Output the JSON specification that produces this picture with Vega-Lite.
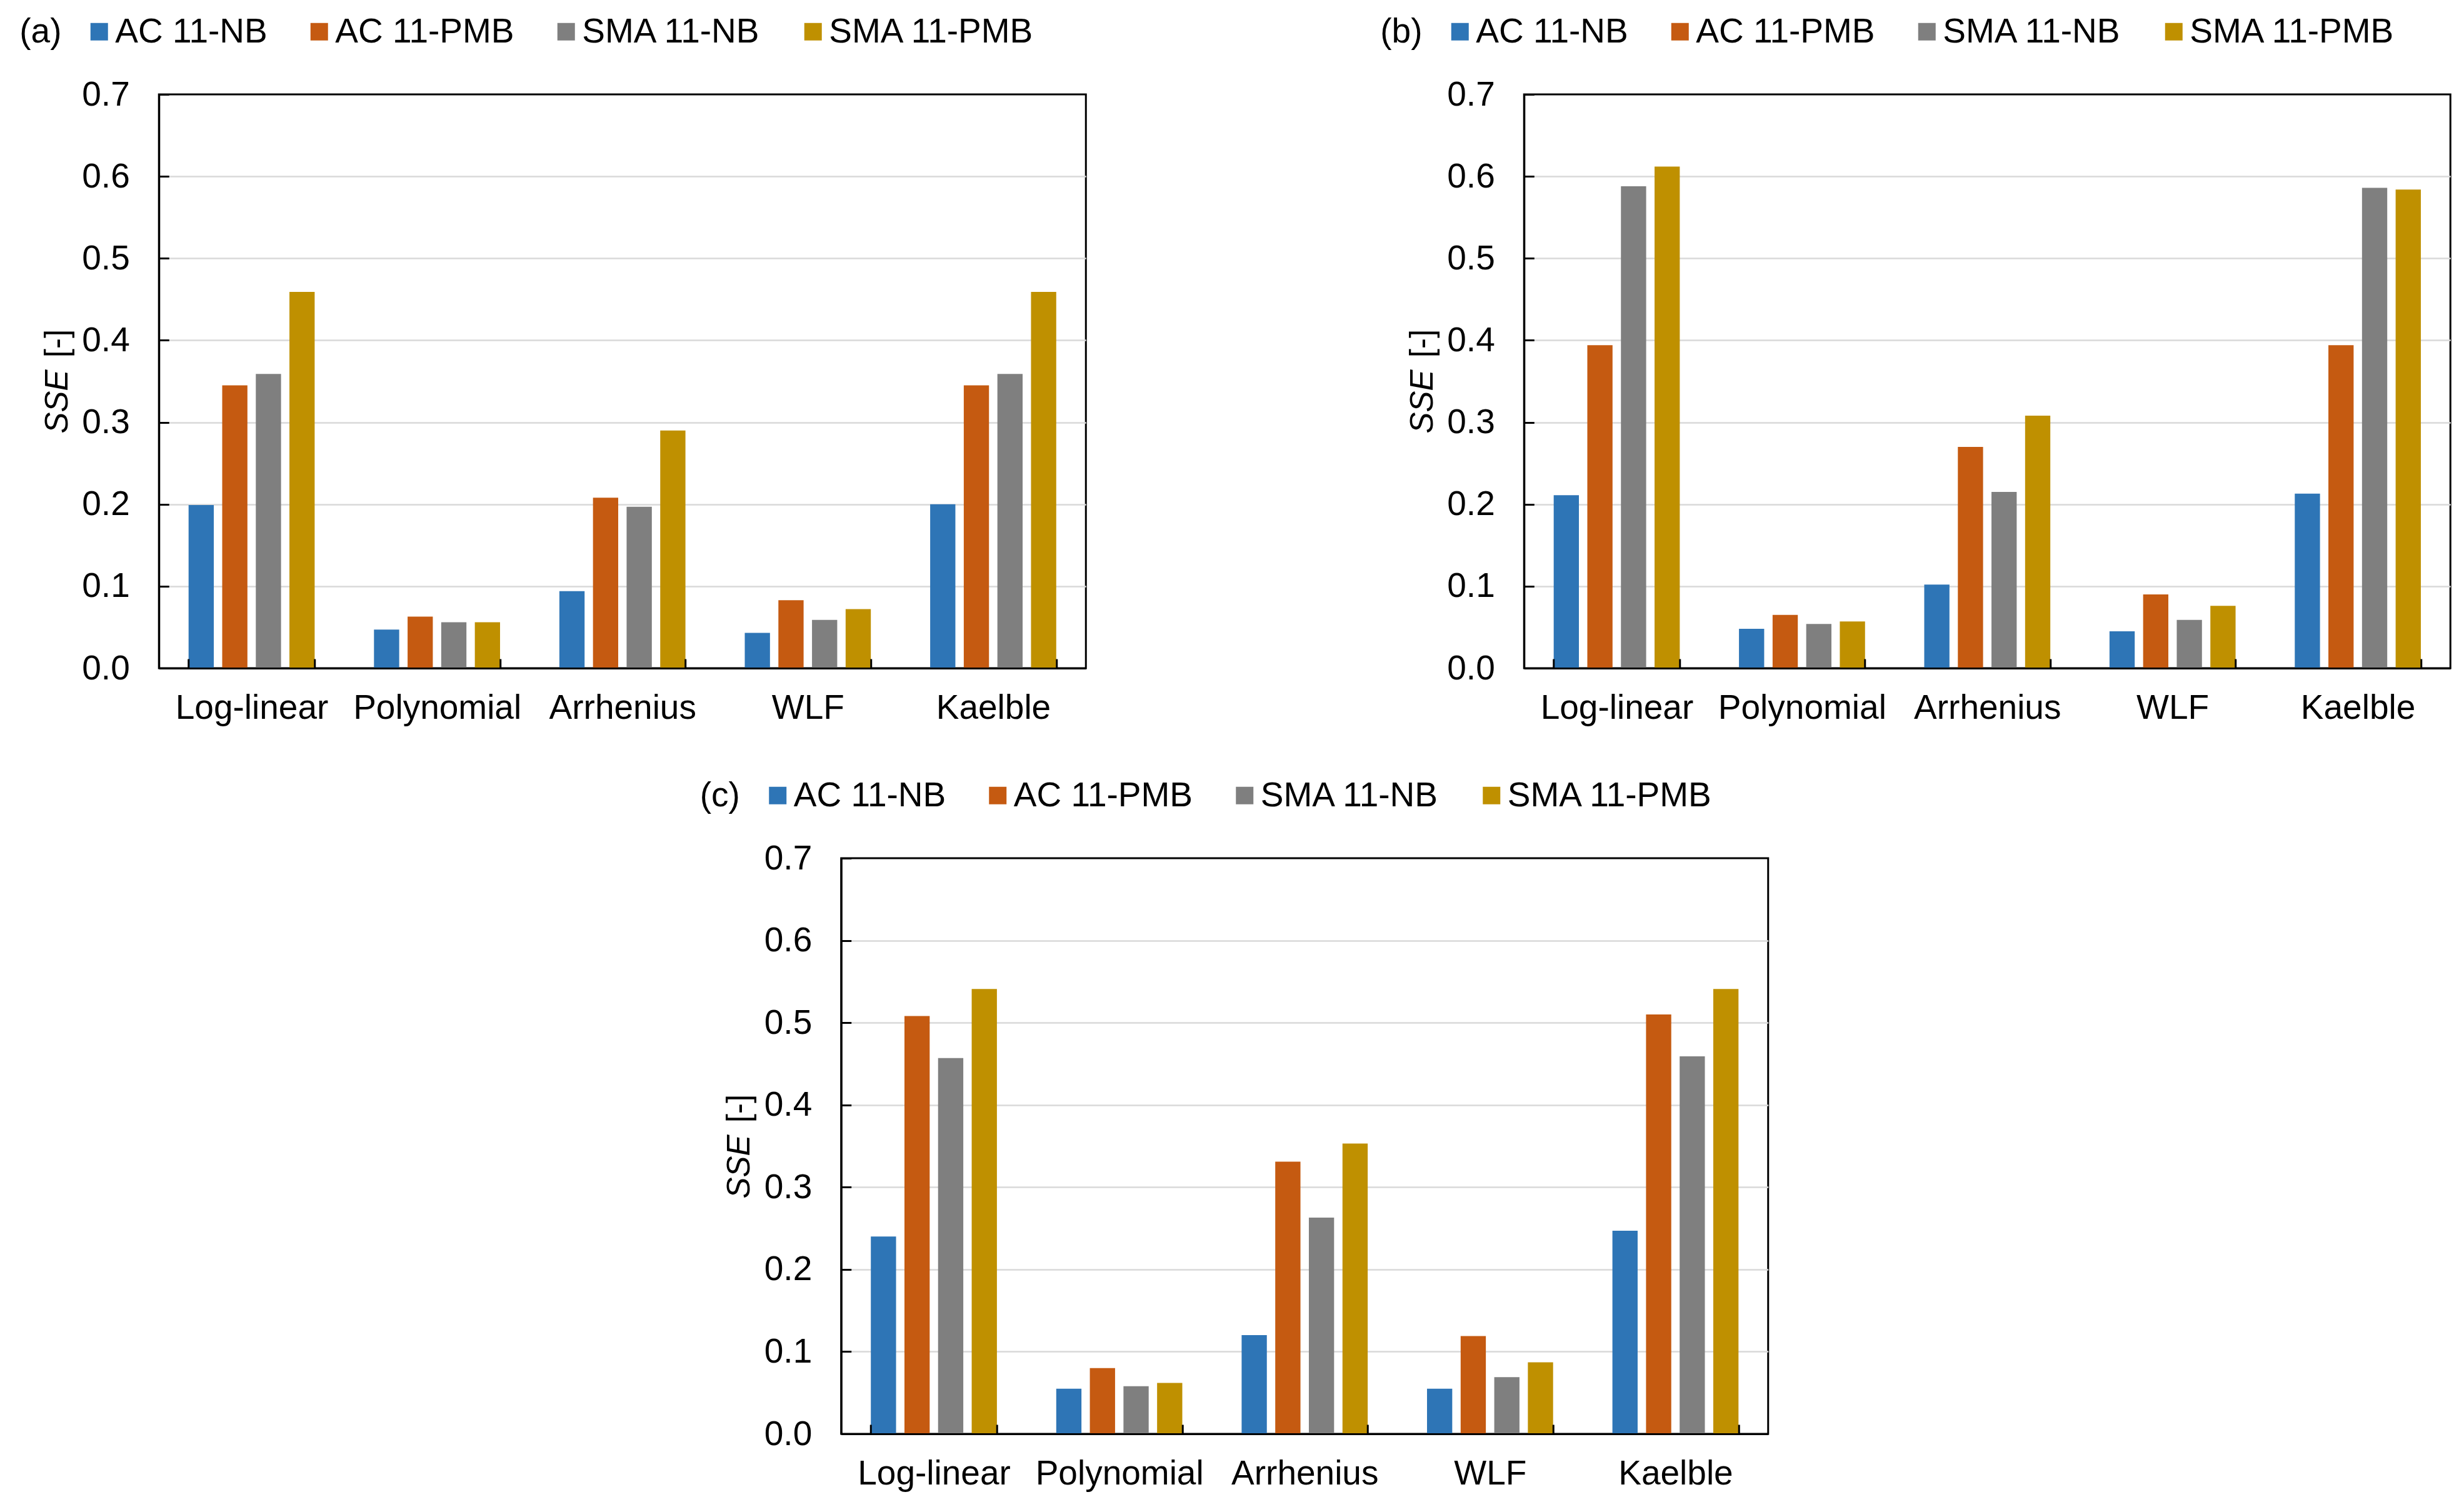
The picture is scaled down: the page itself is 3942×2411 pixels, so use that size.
{
  "$schema": "https://vega.github.io/schema/vega-lite/v6.json",
  "autosize": {"type": "pad"},
  "padding": {"left": 29, "top": 21, "right": 0, "bottom": 0},
  "background": "white",
  "config": {
    "font": "Liberation Sans",
    "view": {"stroke": "black", "strokeWidth": 3},
    "axis": {"labelColor": "black", "titleColor": "black", "labelFont": "Liberation Sans", "titleFont": "Liberation Sans", "labelLimit": 0},
    "legend": {"labelFont": "Liberation Sans", "titleFont": "Liberation Sans", "labelLimit": 0, "titleLimit": 0}
  },
  "datasets": {
    "sse": [
      {"panel": "a", "model": "Log-linear", "mix": "AC 11-NB", "sse": 0.199},
      {"panel": "a", "model": "Log-linear", "mix": "AC 11-PMB", "sse": 0.345},
      {"panel": "a", "model": "Log-linear", "mix": "SMA 11-NB", "sse": 0.359},
      {"panel": "a", "model": "Log-linear", "mix": "SMA 11-PMB", "sse": 0.459},
      {"panel": "a", "model": "Polynomial", "mix": "AC 11-NB", "sse": 0.047},
      {"panel": "a", "model": "Polynomial", "mix": "AC 11-PMB", "sse": 0.063},
      {"panel": "a", "model": "Polynomial", "mix": "SMA 11-NB", "sse": 0.056},
      {"panel": "a", "model": "Polynomial", "mix": "SMA 11-PMB", "sse": 0.056},
      {"panel": "a", "model": "Arrhenius", "mix": "AC 11-NB", "sse": 0.094},
      {"panel": "a", "model": "Arrhenius", "mix": "AC 11-PMB", "sse": 0.208},
      {"panel": "a", "model": "Arrhenius", "mix": "SMA 11-NB", "sse": 0.197},
      {"panel": "a", "model": "Arrhenius", "mix": "SMA 11-PMB", "sse": 0.290},
      {"panel": "a", "model": "WLF", "mix": "AC 11-NB", "sse": 0.043},
      {"panel": "a", "model": "WLF", "mix": "AC 11-PMB", "sse": 0.083},
      {"panel": "a", "model": "WLF", "mix": "SMA 11-NB", "sse": 0.059},
      {"panel": "a", "model": "WLF", "mix": "SMA 11-PMB", "sse": 0.072},
      {"panel": "a", "model": "Kaelble", "mix": "AC 11-NB", "sse": 0.200},
      {"panel": "a", "model": "Kaelble", "mix": "AC 11-PMB", "sse": 0.345},
      {"panel": "a", "model": "Kaelble", "mix": "SMA 11-NB", "sse": 0.359},
      {"panel": "a", "model": "Kaelble", "mix": "SMA 11-PMB", "sse": 0.459},
      {"panel": "b", "model": "Log-linear", "mix": "AC 11-NB", "sse": 0.211},
      {"panel": "b", "model": "Log-linear", "mix": "AC 11-PMB", "sse": 0.394},
      {"panel": "b", "model": "Log-linear", "mix": "SMA 11-NB", "sse": 0.588},
      {"panel": "b", "model": "Log-linear", "mix": "SMA 11-PMB", "sse": 0.612},
      {"panel": "b", "model": "Polynomial", "mix": "AC 11-NB", "sse": 0.048},
      {"panel": "b", "model": "Polynomial", "mix": "AC 11-PMB", "sse": 0.065},
      {"panel": "b", "model": "Polynomial", "mix": "SMA 11-NB", "sse": 0.054},
      {"panel": "b", "model": "Polynomial", "mix": "SMA 11-PMB", "sse": 0.057},
      {"panel": "b", "model": "Arrhenius", "mix": "AC 11-NB", "sse": 0.102},
      {"panel": "b", "model": "Arrhenius", "mix": "AC 11-PMB", "sse": 0.270},
      {"panel": "b", "model": "Arrhenius", "mix": "SMA 11-NB", "sse": 0.215},
      {"panel": "b", "model": "Arrhenius", "mix": "SMA 11-PMB", "sse": 0.308},
      {"panel": "b", "model": "WLF", "mix": "AC 11-NB", "sse": 0.045},
      {"panel": "b", "model": "WLF", "mix": "AC 11-PMB", "sse": 0.090},
      {"panel": "b", "model": "WLF", "mix": "SMA 11-NB", "sse": 0.059},
      {"panel": "b", "model": "WLF", "mix": "SMA 11-PMB", "sse": 0.076},
      {"panel": "b", "model": "Kaelble", "mix": "AC 11-NB", "sse": 0.213},
      {"panel": "b", "model": "Kaelble", "mix": "AC 11-PMB", "sse": 0.394},
      {"panel": "b", "model": "Kaelble", "mix": "SMA 11-NB", "sse": 0.586},
      {"panel": "b", "model": "Kaelble", "mix": "SMA 11-PMB", "sse": 0.584},
      {"panel": "c", "model": "Log-linear", "mix": "AC 11-NB", "sse": 0.240},
      {"panel": "c", "model": "Log-linear", "mix": "AC 11-PMB", "sse": 0.508},
      {"panel": "c", "model": "Log-linear", "mix": "SMA 11-NB", "sse": 0.457},
      {"panel": "c", "model": "Log-linear", "mix": "SMA 11-PMB", "sse": 0.541},
      {"panel": "c", "model": "Polynomial", "mix": "AC 11-NB", "sse": 0.055},
      {"panel": "c", "model": "Polynomial", "mix": "AC 11-PMB", "sse": 0.080},
      {"panel": "c", "model": "Polynomial", "mix": "SMA 11-NB", "sse": 0.058},
      {"panel": "c", "model": "Polynomial", "mix": "SMA 11-PMB", "sse": 0.062},
      {"panel": "c", "model": "Arrhenius", "mix": "AC 11-NB", "sse": 0.120},
      {"panel": "c", "model": "Arrhenius", "mix": "AC 11-PMB", "sse": 0.331},
      {"panel": "c", "model": "Arrhenius", "mix": "SMA 11-NB", "sse": 0.263},
      {"panel": "c", "model": "Arrhenius", "mix": "SMA 11-PMB", "sse": 0.353},
      {"panel": "c", "model": "WLF", "mix": "AC 11-NB", "sse": 0.055},
      {"panel": "c", "model": "WLF", "mix": "AC 11-PMB", "sse": 0.119},
      {"panel": "c", "model": "WLF", "mix": "SMA 11-NB", "sse": 0.069},
      {"panel": "c", "model": "WLF", "mix": "SMA 11-PMB", "sse": 0.087},
      {"panel": "c", "model": "Kaelble", "mix": "AC 11-NB", "sse": 0.247},
      {"panel": "c", "model": "Kaelble", "mix": "AC 11-PMB", "sse": 0.510},
      {"panel": "c", "model": "Kaelble", "mix": "SMA 11-NB", "sse": 0.459},
      {"panel": "c", "model": "Kaelble", "mix": "SMA 11-PMB", "sse": 0.541}
    ]
  },
  "data": {"name": "sse"},
  "spacing": 81,
  "center": true,
  "resolve": {"scale": {"color": "independent", "y": "independent", "x": "independent"}, "legend": {"color": "independent"}, "axis": {"y": "independent", "x": "independent"}},
  "vconcat": [
    {
      "spacing": 467,
      "resolve": {"scale": {"color": "independent", "y": "independent", "x": "independent"}, "legend": {"color": "independent"}, "axis": {"y": "independent", "x": "independent"}},
      "hconcat": [
        {
          "transform": [{"filter": "datum.panel == 'a'"}],
          "width": 1483,
          "height": 918,
          "resolve": {"axis": {"y": "independent"}},
          "layer": [
            {
              "mark": {"type": "bar"},
              "encoding": {
                "x": {"field": "model", "type": "nominal", "sort": ["Log-linear", "Polynomial", "Arrhenius", "WLF", "Kaelble"], "scale": {"paddingInner": 0.32, "paddingOuter": 0.16}, "title": null,
                  "axis": {"labelAngle": 0, "labelFontSize": 55, "labelPadding": 52, "tickBand": "extent", "tickSize": -15, "tickWidth": 3, "tickColor": "black", "domainColor": "black", "domainWidth": 3, "zindex": 1}},
                "xOffset": {"field": "mix", "type": "nominal", "sort": ["AC 11-NB", "AC 11-PMB", "SMA 11-NB", "SMA 11-PMB"], "scale": {"paddingInner": 0.25, "paddingOuter": 0}},
                "y": {"field": "sse", "type": "quantitative", "scale": {"domain": [0, 0.7], "nice": false},
                  "axis": {"title": "SSE", "titleFontStyle": "italic", "titleFontWeight": "normal", "titleFontSize": 51, "titleAngle": 270, "titleX": -147, "titleY": 491, "titleBaseline": "alphabetic", "titleAlign": "center",
                    "values": [0, 0.1, 0.2, 0.3, 0.4, 0.5, 0.6, 0.7], "format": ".1f", "labelFontSize": 55, "labelPadding": 63, "labelOverlap": false, "labelFlush": false,
                    "tickSize": -16, "tickWidth": 3, "tickColor": "black", "domainColor": "black", "domainWidth": 3,
                    "grid": true, "gridWidth": 2.5, "gridColor": {"condition": {"test": "datum.value <= 0 || datum.value >= 0.7", "value": "transparent"}, "value": "#d9d9d9"}}},
                "color": {"field": "mix", "type": "nominal", "scale": {"domain": ["AC 11-NB", "AC 11-PMB", "SMA 11-NB", "SMA 11-PMB"], "range": ["#2E75B6", "#C55A11", "#7F7F7F", "#BF9000"]},
                  "legend": {"title": "(a)", "orient": "none", "legendX": -223, "legendY": -128, "direction": "horizontal", "columns": 4, "titleOrient": "left", "titleFontSize": 55, "titleFontWeight": "normal", "titlePadding": 32, "titleColor": "black", "labelFontSize": 55, "labelColor": "black", "labelOffset": -2, "columnPadding": 55, "symbolType": "square", "symbolSize": 784, "symbolStrokeWidth": 0, "symbolOpacity": 1}}
              }
            },
            {
              "mark": {"type": "bar", "opacity": 0},
              "encoding": {
                "x": {"field": "model", "type": "nominal", "sort": ["Log-linear", "Polynomial", "Arrhenius", "WLF", "Kaelble"], "scale": {"paddingInner": 0.32, "paddingOuter": 0.16}, "title": null},
                "xOffset": {"field": "mix", "type": "nominal", "sort": ["AC 11-NB", "AC 11-PMB", "SMA 11-NB", "SMA 11-PMB"], "scale": {"paddingInner": 0.25, "paddingOuter": 0}},
                "y": {"field": "sse", "type": "quantitative", "scale": {"domain": [0, 0.7], "nice": false},
                  "axis": {"orient": "right", "title": "[-]", "titleFontWeight": "normal", "titleFontSize": 51, "titleAngle": 270, "titleX": -1630, "titleY": 398, "titleBaseline": "alphabetic", "titleAlign": "center", "labels": false, "ticks": false, "domain": false, "grid": false}}
              }
            }
          ]
        },
        {
          "transform": [{"filter": "datum.panel == 'b'"}],
          "width": 1482,
          "height": 918,
          "resolve": {"axis": {"y": "independent"}},
          "layer": [
            {
              "mark": {"type": "bar"},
              "encoding": {
                "x": {"field": "model", "type": "nominal", "sort": ["Log-linear", "Polynomial", "Arrhenius", "WLF", "Kaelble"], "scale": {"paddingInner": 0.32, "paddingOuter": 0.16}, "title": null,
                  "axis": {"labelAngle": 0, "labelFontSize": 55, "labelPadding": 52, "tickBand": "extent", "tickSize": -15, "tickWidth": 3, "tickColor": "black", "domainColor": "black", "domainWidth": 3, "zindex": 1}},
                "xOffset": {"field": "mix", "type": "nominal", "sort": ["AC 11-NB", "AC 11-PMB", "SMA 11-NB", "SMA 11-PMB"], "scale": {"paddingInner": 0.25, "paddingOuter": 0}},
                "y": {"field": "sse", "type": "quantitative", "scale": {"domain": [0, 0.7], "nice": false},
                  "axis": {"title": "SSE", "titleFontStyle": "italic", "titleFontWeight": "normal", "titleFontSize": 51, "titleAngle": 270, "titleX": -147, "titleY": 491, "titleBaseline": "alphabetic", "titleAlign": "center",
                    "values": [0, 0.1, 0.2, 0.3, 0.4, 0.5, 0.6, 0.7], "format": ".1f", "labelFontSize": 55, "labelPadding": 63, "labelOverlap": false, "labelFlush": false,
                    "tickSize": -16, "tickWidth": 3, "tickColor": "black", "domainColor": "black", "domainWidth": 3,
                    "grid": true, "gridWidth": 2.5, "gridColor": {"condition": {"test": "datum.value <= 0 || datum.value >= 0.7", "value": "transparent"}, "value": "#d9d9d9"}}},
                "color": {"field": "mix", "type": "nominal", "scale": {"domain": ["AC 11-NB", "AC 11-PMB", "SMA 11-NB", "SMA 11-PMB"], "range": ["#2E75B6", "#C55A11", "#7F7F7F", "#BF9000"]},
                  "legend": {"title": "(b)", "orient": "none", "legendX": -230, "legendY": -128, "direction": "horizontal", "columns": 4, "titleOrient": "left", "titleFontSize": 55, "titleFontWeight": "normal", "titlePadding": 32, "titleColor": "black", "labelFontSize": 55, "labelColor": "black", "labelOffset": -2, "columnPadding": 55, "symbolType": "square", "symbolSize": 784, "symbolStrokeWidth": 0, "symbolOpacity": 1}}
              }
            },
            {
              "mark": {"type": "bar", "opacity": 0},
              "encoding": {
                "x": {"field": "model", "type": "nominal", "sort": ["Log-linear", "Polynomial", "Arrhenius", "WLF", "Kaelble"], "scale": {"paddingInner": 0.32, "paddingOuter": 0.16}, "title": null},
                "xOffset": {"field": "mix", "type": "nominal", "sort": ["AC 11-NB", "AC 11-PMB", "SMA 11-NB", "SMA 11-PMB"], "scale": {"paddingInner": 0.25, "paddingOuter": 0}},
                "y": {"field": "sse", "type": "quantitative", "scale": {"domain": [0, 0.7], "nice": false},
                  "axis": {"orient": "right", "title": "[-]", "titleFontWeight": "normal", "titleFontSize": 51, "titleAngle": 270, "titleX": -1629, "titleY": 398, "titleBaseline": "alphabetic", "titleAlign": "center", "labels": false, "ticks": false, "domain": false, "grid": false}}
              }
            }
          ]
        }
      ]
    },
    {
      "transform": [{"filter": "datum.panel == 'c'"}],
      "width": 1483,
      "height": 921,
      "resolve": {"axis": {"y": "independent"}},
      "layer": [
        {
          "mark": {"type": "bar"},
          "encoding": {
            "x": {"field": "model", "type": "nominal", "sort": ["Log-linear", "Polynomial", "Arrhenius", "WLF", "Kaelble"], "scale": {"paddingInner": 0.32, "paddingOuter": 0.16}, "title": null,
              "axis": {"labelAngle": 0, "labelFontSize": 55, "labelPadding": 52, "tickBand": "extent", "tickSize": -15, "tickWidth": 3, "tickColor": "black", "domainColor": "black", "domainWidth": 3, "zindex": 1}},
            "xOffset": {"field": "mix", "type": "nominal", "sort": ["AC 11-NB", "AC 11-PMB", "SMA 11-NB", "SMA 11-PMB"], "scale": {"paddingInner": 0.25, "paddingOuter": 0}},
            "y": {"field": "sse", "type": "quantitative", "scale": {"domain": [0, 0.7], "nice": false},
              "axis": {"title": "SSE", "titleFontStyle": "italic", "titleFontWeight": "normal", "titleFontSize": 51, "titleAngle": 270, "titleX": -147, "titleY": 493, "titleBaseline": "alphabetic", "titleAlign": "center",
                "values": [0, 0.1, 0.2, 0.3, 0.4, 0.5, 0.6, 0.7], "format": ".1f", "labelFontSize": 55, "labelPadding": 63, "labelOverlap": false, "labelFlush": false,
                "tickSize": -16, "tickWidth": 3, "tickColor": "black", "domainColor": "black", "domainWidth": 3,
                "grid": true, "gridWidth": 2.5, "gridColor": {"condition": {"test": "datum.value <= 0 || datum.value >= 0.7", "value": "transparent"}, "value": "#d9d9d9"}}},
            "color": {"field": "mix", "type": "nominal", "scale": {"domain": ["AC 11-NB", "AC 11-PMB", "SMA 11-NB", "SMA 11-PMB"], "range": ["#2E75B6", "#C55A11", "#7F7F7F", "#BF9000"]},
              "legend": {"title": "(c)", "orient": "none", "legendX": -226, "legendY": -128, "direction": "horizontal", "columns": 4, "titleOrient": "left", "titleFontSize": 55, "titleFontWeight": "normal", "titlePadding": 32, "titleColor": "black", "labelFontSize": 55, "labelColor": "black", "labelOffset": -2, "columnPadding": 55, "symbolType": "square", "symbolSize": 784, "symbolStrokeWidth": 0, "symbolOpacity": 1}}
          }
        },
        {
          "mark": {"type": "bar", "opacity": 0},
          "encoding": {
            "x": {"field": "model", "type": "nominal", "sort": ["Log-linear", "Polynomial", "Arrhenius", "WLF", "Kaelble"], "scale": {"paddingInner": 0.32, "paddingOuter": 0.16}, "title": null},
            "xOffset": {"field": "mix", "type": "nominal", "sort": ["AC 11-NB", "AC 11-PMB", "SMA 11-NB", "SMA 11-PMB"], "scale": {"paddingInner": 0.25, "paddingOuter": 0}},
            "y": {"field": "sse", "type": "quantitative", "scale": {"domain": [0, 0.7], "nice": false},
              "axis": {"orient": "right", "title": "[-]", "titleFontWeight": "normal", "titleFontSize": 51, "titleAngle": 270, "titleX": -1630, "titleY": 400, "titleBaseline": "alphabetic", "titleAlign": "center", "labels": false, "ticks": false, "domain": false, "grid": false}}
          }
        }
      ]
    }
  ]
}
